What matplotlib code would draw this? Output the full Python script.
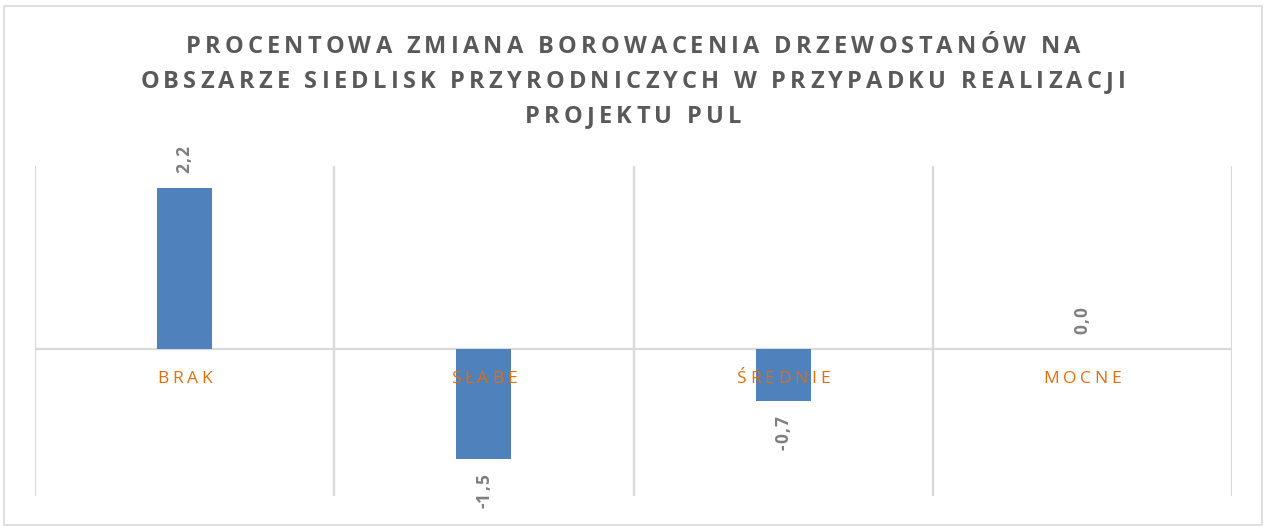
import matplotlib
matplotlib.use("Agg")
import matplotlib.pyplot as plt
from matplotlib.transforms import IdentityTransform
from matplotlib.font_manager import FontProperties
from matplotlib.patches import Rectangle

title_lines = [
    "PROCENTOWA ZMIANA BOROWACENIA DRZEWOSTANÓW NA",
    "OBSZARZE SIEDLISK PRZYRODNICZYCH W PRZYPADKU REALIZACJI",
    "PROJEKTU PUL",
]
categories = ["BRAK", "SŁABE", "ŚREDNIE", "MOCNE"]
values = [2.2, -1.5, -0.7, 0.0]

BAR = "#4F81BD"
GRID = "#D9D9D9"
TITLE = "#595959"
LABEL = "#7F7F7F"
CAT = "#E46C0A"

W, H = 1266, 526
fig = plt.figure(figsize=(W / 100, H / 100), dpi=100)
fig.patch.set_facecolor("white")

# outer chart frame
fig.patches.append(Rectangle((4 / W, 1 / H), 1258 / W, 519 / H,
                             transform=fig.transFigure, fill=False,
                             edgecolor=GRID, linewidth=1.2))

ax = fig.add_axes([35 / W, 30 / H, 1197 / W, 330 / H])
x = list(range(len(categories)))
ax.bar(x, values, width=0.184, color=BAR, zorder=2)
ax.set_xlim(-0.5, len(categories) - 0.5)
ax.set_ylim(-2, 2.5)
for s in ax.spines.values():
    s.set_visible(False)
ax.set_xticks([])
ax.set_yticks([])
for b in range(len(categories) + 1):
    ax.axvline(b - 0.5, color=GRID, linewidth=1.6, zorder=1)
ax.axhline(0, color=GRID, linewidth=1.6, zorder=1)

renderer = fig.canvas.get_renderer()


def char_widths(s, prop):
    base, _, _ = renderer.get_text_width_height_descent("||", prop, ismath=False)
    out = []
    for ch in s:
        w, _, _ = renderer.get_text_width_height_descent("|" + ch + "|", prop, ismath=False)
        out.append(w - base)
    return out


def spaced_text(cx, y, s, prop, spacing, color, zorder=5):
    # horizontal text centred on cx, baseline at y (pixels)
    widths = char_widths(s, prop)
    total = sum(widths) + spacing * (len(s) - 1)
    px = cx - total / 2
    for ch, w in zip(s, widths):
        if ch != " ":
            fig.text(px, y, ch, transform=IdentityTransform(), fontproperties=prop,
                     color=color, ha="left", va="baseline", zorder=zorder)
        px += w + spacing


def spaced_vertical(bx, y0, s, prop, spacing, color, from_top=False):
    # text rotated 90 deg, baseline at bx; starts at y0 (or ends there if from_top)
    widths = char_widths(s, prop)
    total = sum(widths) + spacing * (len(s) - 1)
    py = y0 - total if from_top else y0
    for ch, w in zip(s, widths):
        fig.text(bx, py, ch, transform=IdentityTransform(), fontproperties=prop,
                 color=color, rotation=90, rotation_mode="anchor",
                 ha="left", va="baseline", zorder=5)
        py += w + spacing


# title with wide letter spacing
title_prop = FontProperties(family="Open Sans", weight="bold", size=17)
w1 = char_widths(title_lines[0], title_prop)
title_gap = (895 - sum(w1)) / (len(title_lines[0]) - 1)
for line, base in zip(title_lines, [473, 438, 403]):
    spaced_text(633, base, line, title_prop, title_gap, TITLE)

# data labels, rotated, Polish decimal comma
lab_prop = FontProperties(family="Open Sans", weight="bold", size=12.5)
for i, v in enumerate(values):
    txt = f"{v:.1f}".replace(".", ",")
    bx, by = ax.transData.transform((i, v))
    if v >= 0:
        spaced_vertical(bx + 5, by + 15, txt, lab_prop, 1.2, LABEL)
    else:
        spaced_vertical(bx + 5, by - 15, txt, lab_prop, 1.2, LABEL, from_top=True)

# category labels below the zero line
cat_prop = FontProperties(family="Open Sans", size=12.5)
for i, c in enumerate(categories):
    cx, zy = ax.transData.transform((i, 0))
    spaced_text(cx, zy - 34, c, cat_prop, 3.8, CAT, zorder=6)

fig.savefig("out.png", dpi=100)
